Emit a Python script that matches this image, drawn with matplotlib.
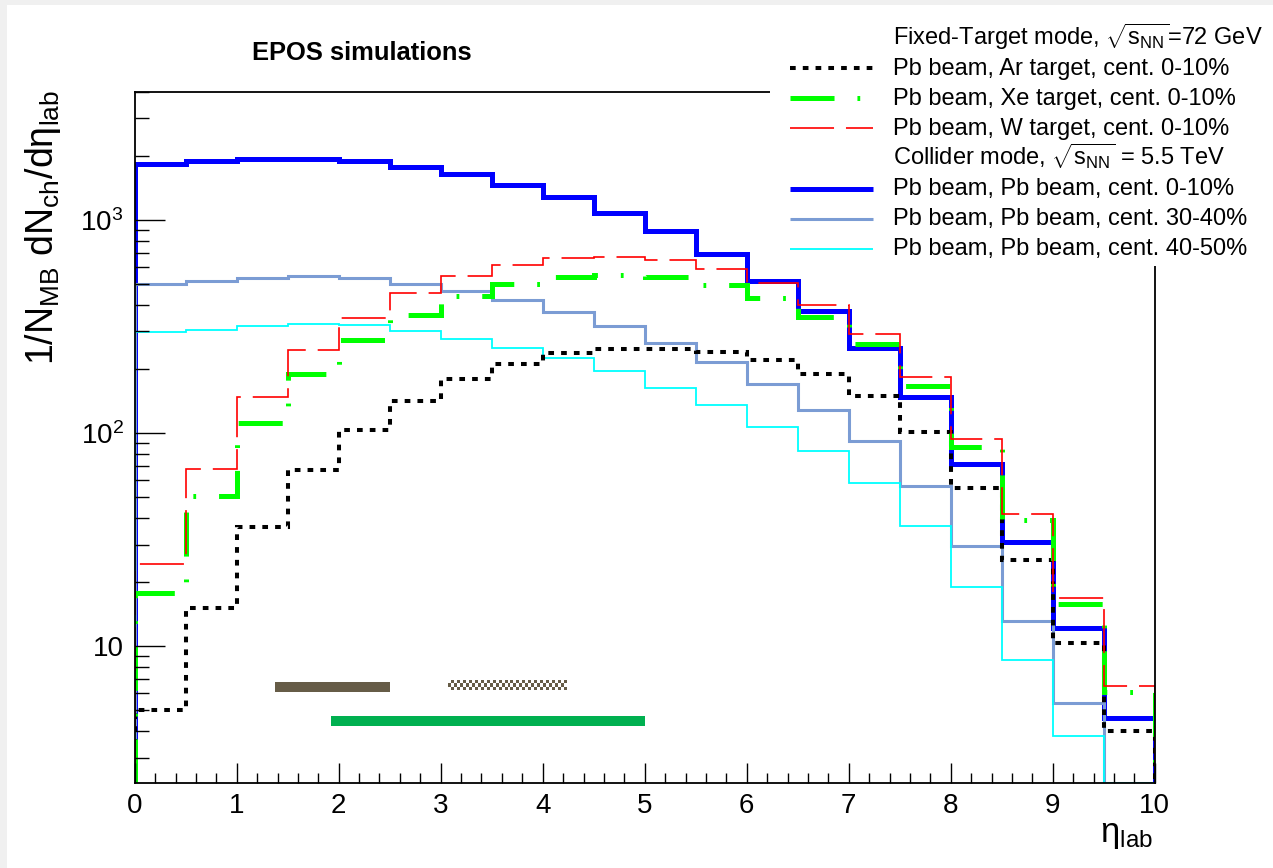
import numpy as np
import matplotlib
matplotlib.use('Agg')
import matplotlib.pyplot as plt
from matplotlib.patches import Rectangle
from matplotlib.lines import Line2D
from matplotlib.colors import ListedColormap
from matplotlib.ticker import MultipleLocator, FixedLocator, FixedFormatter, LogLocator, NullFormatter

plt.rcParams.update({
    'font.family': ['Liberation Sans', 'DejaVu Sans'],
    'mathtext.fontset': 'custom',
    'mathtext.rm': 'Liberation Sans',
    'mathtext.it': 'Liberation Sans:italic',
    'mathtext.bf': 'Liberation Sans:bold',
    'lines.scale_dashes': False,
})

# ---------------- data ----------------
eta_edges = [0.0, 0.5, 1.0, 1.5, 2.0, 2.5, 3.0, 3.5, 4.0, 4.5, 5.0,
             5.5, 6.0, 6.5, 7.0, 7.5, 8.0, 8.5, 9.0, 9.5, 10.0]

ar_0_10 = [5.0, 15.1, 36.4, 67, 103, 141, 179, 211, 237, 247,
           249, 240, 220, 190, 150, 101, 55, 25.4, 10.3, 4.0]
xe_0_10 = [17.7, 50.8, 111, 190, 272, 358, 438, 499, 538, 552,
           538, 497, 431, 352, 262, 167, 86, 39.2, 15.8, 6.1]
w_0_10 = [24.3, 68, 147, 246, 347, 453, 548, 616, 661, 668,
          649, 589, 505, 400, 292, 184, 94, 41.8, 16.9, 6.5]
pbpb_0_10 = [1826, 1892, 1941, 1941, 1892, 1779, 1639, 1465, 1278, 1082,
             885, 695, 519, 374, 251, 147, 71.3, 30.7, 12.2, 4.6]
pbpb_30_40 = [501, 519, 536, 544, 535, 500, 466, 421, 369, 318,
              266, 215, 170, 128, 92, 56.4, 29.6, 13.1, 5.4, 0]
pbpb_40_50 = [297, 306, 317, 324, 320, 301, 277, 251, 226, 195,
              163, 135, 107, 82, 58, 36.7, 18.9, 8.6, 3.8, 0]

labels = ['Pb beam, Ar target, cent. 0-10%',
          'Pb beam, Xe target, cent. 0-10%',
          'Pb beam, W target, cent. 0-10%',
          'Pb beam, Pb beam, cent. 0-10%',
          'Pb beam, Pb beam, cent. 30-40%',
          'Pb beam, Pb beam, cent. 40-50%']
header_fixed = r'Fixed-Target mode, $\sqrt{\mathrm{s}_{\mathrm{NN}}}$=72 GeV'
header_collider = r'Collider mode, $\sqrt{\mathrm{s}_{\mathrm{NN}}}$ = 5.5 TeV'

# acceptance bands (eta ranges)
band_x0 = [1.375, 3.075, 1.925]
band_x1 = [2.503, 4.235, 5.003]
band_ylo = [6.12, 6.24, 4.24]
band_yhi = [6.80, 6.95, 4.71]

YMIN, YMAX = 2.28, 4000

# ---------------- styles ----------------
st_ar = dict(color='black', linewidth=2.9, linestyle=(0, (4.1, 5.1)))
st_xe = dict(color='#00ff00', linewidth=3.6, linestyle=(0, (31.7, 16.5, 2.0, 16.5)))
st_w = dict(color='#ff0000', linewidth=1.2, linestyle=(0, (31.7, 8.6)))
st_b0 = dict(color='#0000ff', linewidth=3.6, linestyle='-')
st_b3 = dict(color='#7b9cd4', linewidth=2.2, linestyle='-')
st_b4 = dict(color='#00ffff', linewidth=1.3, linestyle='-')

W, H = 1273, 868
fig = plt.figure(figsize=(W / 100, H / 100), dpi=100)
fig.patch.set_facecolor('white')
ax = fig.add_axes([134.7 / W, 1 - 783 / H, (1154.7 - 134.7) / W, (783 - 91.7) / H])
ax.set_yscale('log')
ax.set_xlim(0, 10)
ax.set_ylim(YMIN, YMAX)

draw_order = [(pbpb_0_10, st_b0), (pbpb_30_40, st_b3), (pbpb_40_50, st_b4),
              (ar_0_10, st_ar), (xe_0_10, st_xe), (w_0_10, st_w)]
for vals, st in draw_order:
    v = np.clip(np.asarray(vals, dtype=float), YMIN, None)
    ax.stairs(v, eta_edges, baseline=YMIN, fill=False,
              capstyle='butt', joinstyle='miter', **st)

# bands
brown = '#665c47'
ax.fill_between([band_x0[0], band_x1[0]], band_ylo[0], band_yhi[0], color=brown, lw=0)
ax.fill_between([band_x0[2], band_x1[2]], band_ylo[2], band_yhi[2], color='#00b050', lw=0)
nx, ny = 40, 3
Xc = np.linspace(band_x0[1], band_x1[1], nx + 1)
Yc = np.geomspace(band_ylo[1], band_yhi[1], ny + 1)
C = (np.add.outer(np.arange(ny), np.arange(nx)) % 2).astype(float)
ax.pcolormesh(Xc, Yc, C, cmap=ListedColormap(['#ffffff', brown]), shading='flat')

# ticks
ax.xaxis.set_major_locator(MultipleLocator(1))
ax.xaxis.set_minor_locator(MultipleLocator(0.2))
ax.yaxis.set_major_locator(FixedLocator([10, 100, 1000]))
ax.yaxis.set_major_formatter(FixedFormatter(['10', r'$10^{2}$', r'$10^{3}$']))
ax.yaxis.set_minor_locator(LogLocator(base=10, subs=np.arange(2, 10), numticks=30))
ax.yaxis.set_minor_formatter(NullFormatter())
ax.tick_params(axis='x', which='major', direction='in', length=14.4, width=1.0,
               top=False, pad=7, labelsize=20)
ax.tick_params(axis='x', which='minor', direction='in', length=7.2, width=1.0, top=False)
ax.tick_params(axis='y', which='major', direction='in', length=21.6, width=1.0,
               right=False, pad=8, labelsize=20)
ax.tick_params(axis='y', which='minor', direction='in', length=10, width=1.0, right=False)
for s in ax.spines.values():
    s.set_linewidth(1.3)

# axis titles
fig.text(43 / W, 1 - 90 / H, r'1/N$_{\mathrm{MB}}$ dN$_{\mathrm{ch}}$/d$\mathrm{η}_{\mathrm{lab}}$',
         rotation=90, ha='center', va='top', fontsize=27)
fig.text(1153 / W, 1 - 842 / H, r'$\mathrm{η}_{\mathrm{lab}}$', ha='right', va='baseline', fontsize=25)
fig.text(362 / W, 1 - 60 / H, 'EPOS simulations', ha='center', va='baseline',
         fontsize=18.4, fontweight='bold')

# gray border strips
fig.patches.append(Rectangle((0, 1 - 5 / H), 1, 5 / H, transform=fig.transFigure,
                             facecolor='#f0f0f0', edgecolor='none', zorder=2))
fig.patches.append(Rectangle((0, 0), 7 / W, 1, transform=fig.transFigure,
                             facecolor='#f0f0f0', edgecolor='none', zorder=2))

# legend box (white, covers frame)
fig.patches.append(Rectangle((770 / W, 1 - 266 / H), (W - 770) / W, (266 - 5) / H,
                             transform=fig.transFigure, facecolor='white',
                             edgecolor='none', zorder=3))
rows = [header_fixed] + labels[:3] + [header_collider] + labels[3:]
row_styles = [None, st_ar, st_xe, st_w, None, st_b0, st_b3, st_b4]
for i, (txt, st) in enumerate(zip(rows, row_styles)):
    yb = 44.5 + 30.1 * i
    fig.text(893 / W, 1 - yb / H, txt, ha='left', va='baseline', fontsize=17, zorder=5)
    if st is not None:
        ln = Line2D([790 / W, 873 / W], [1 - (yb - 6.5) / H] * 2, transform=fig.transFigure,
                    solid_capstyle='butt', dash_capstyle='butt', zorder=5, **st)
        fig.add_artist(ln)

fig.savefig('out.png', dpi=100)
